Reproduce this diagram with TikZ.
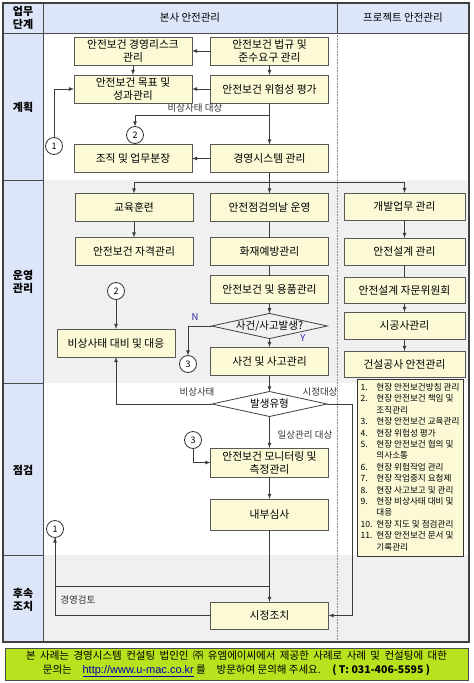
\documentclass[tikz,border=0pt]{standalone}
\usepackage{fontspec}
\setmainfont{Noto Sans CJK KR}
\newfontfamily\urlfont{Liberation Sans}
\usetikzlibrary{positioning}
\usetikzlibrary{arrows}
\usetikzlibrary{shapes.geometric}
\definecolor{boxfill}{RGB}{252,250,214}
\definecolor{stagefill}{RGB}{221,230,248}
\definecolor{bandfill}{RGB}{240,240,240}
\definecolor{linegray}{RGB}{60,60,60}
\definecolor{notegreen}{RGB}{184,226,30}
\definecolor{yesno}{RGB}{40,40,160}

\begin{document}
\begin{tikzpicture}[x=1pt,y=-1pt,>=latex,line width=0.8pt,
	box/.style={minimum width=118pt,minimum height=28pt,inner sep=1pt,outer sep=0pt,draw=black!65,fill=boxfill,align=center,font=\fontsize{10.8}{13}\selectfont},
	pbox/.style={box,minimum width=121pt,minimum height=27pt},
	decide/.style={diamond,aspect=4.6,draw=black!75,inner sep=0pt,outer sep=0pt,minimum width=115pt,minimum height=25pt,font=\fontsize{10.5}{12}\selectfont},
	circ/.style={circle,draw=black!80,fill=white,minimum size=17pt,inner sep=0pt,outer sep=0pt,font=\fontsize{9}{9}\selectfont},
	lbl/.style={inner sep=1pt,font=\fontsize{9.5}{11}\selectfont,text=black!80},
	stage/.style={align=center,font=\fontsize{11}{13.5}\selectfont\bfseries},
	flow/.style={draw=linegray}]
	\useasboundingbox (0,0) rectangle (474,683);

	% lanes and bands
	\fill[bandfill] (43,180) rectangle (469,383);
	\fill[bandfill] (43,555) rectangle (469,642);
	\fill[stagefill] (3,33) rectangle (43,642);
	\fill[stagefill] (3,3) rectangle (469,33);
	\draw[black!45,densely dotted,line width=0.6pt] (337,33) -- (337,642);
	\draw[black!70,line width=1pt] (3,33) -- (469,33);
	\draw[black!70,line width=1pt] (43,3) -- (43,642);
	\draw[black!70,line width=1pt] (337,3) -- (337,33);
	\draw[black!70,line width=1pt] (3,180) -- (43,180);
	\draw[black!70,line width=1pt] (3,383) -- (43,383);
	\draw[black!70,line width=1pt] (3,555) -- (43,555);
	\draw[black!75,line width=1.2pt] (3,3) rectangle (469,642);

	\node [stage] (h_stage) at (23,18) {업무\\단계};
	\node [font=\fontsize{10.5}{12}\selectfont] (h_hq) at (190,18) {본사 안전관리};
	\node [font=\fontsize{10.5}{12}\selectfont] (h_prj) at (403,18) {프로젝트 안전관리};
	\node [stage] (s_plan) at (23,107) {계획};
	\node [stage] (s_oper) at (23,282) {운영\\관리};
	\node [stage] (s_check) at (23,470) {점검};
	\node [stage] (s_follow) at (23,600) {후속\\조치};

	% plan
	\node [box] (risk) at (133,51) {안전보건 경영리스크\\관리};
	\node [box] (reg) at (269.5,51) {안전보건 법규 및\\준수요구 관리};
	\node [box] (goal) at (133,89) {안전보건 목표 및\\성과관리};
	\node [box] (eval) at (269.5,89) {안전보건 위험성 평가};
	\node [box] (org) at (133,158.5) {조직 및 업무분장};
	\node [box] (ms) at (269.5,158.5) {경영시스템 관리};
	\node [circ] (c1a) at (54,146) {1};
	\node [circ] (c2a) at (135,135) {2};
	\node [lbl] (l_emg1) at (195,108) {비상사태 대상};

	% operation
	\node [box] (edu) at (134,207.5) {교육훈련};
	\node [box,below=16pt of edu] (qual) {안전보건 자격관리};
	\node [box] (safeday) at (269.5,207.5) {안전점검의날 운영};
	\node [box,below=16pt of safeday] (fire) {화재예방관리};
	\node [box,below=10pt of fire] (supply) {안전보건 및 용품관리};
	\node [decide] (incident) at (269.5,326) {사건/사고발생?};
	\node [box] (acc) at (269.5,361) {사건 및 사고관리};
	\node [box] (emerg) at (116,343) {비상사태 대비 및 대응};
	\node [circ] (c2b) at (116,291) {2};
	\node [circ] (c3a) at (188,364) {3};
	\node [lbl,text=yesno] (l_n) at (195,317) {N};
	\node [lbl,text=yesno] (l_y) at (303,338) {Y};

	% project
	\node [pbox] (dev) at (404.5,206.5) {개발업무 관리};
	\node [pbox,below=18pt of dev] (design) {안전설계 관리};
	\node [pbox,below=12pt of design,minimum height=26pt] (advisory) {안전설계 자문위원회};
	\node [pbox,below=9pt of advisory] (contractor) {시공사관리};
	\node [pbox,below=12pt of contractor,minimum height=26pt] (constr) {건설공사 안전관리};
	\node [draw=black!80,line width=1pt,fill=boxfill,minimum width=106pt,minimum height=176pt,inner sep=3pt,anchor=north,font=\fontsize{8.6}{11.4}\selectfont] (items) at (410,379) {%
		\begin{tabular}{@{}l@{\hspace{4pt}}l@{}}
		1. & 현장 안전보건방침 관리\\
		2. & 현장 안전보건 책임 및\\
		   & 조직관리\\
		3. & 현장 안전보건 교육관리\\
		4. & 현장 위험성 평가\\
		5. & 현장 안전보건 협의 및\\
		   & 의사소통\\
		6. & 현장 위험작업 관리\\
		7. & 현장 작업중지 요청제\\
		8. & 현장 사고보고 및 관리\\
		9. & 현장 비상사태 대비 및\\
		   & 대응\\
		10. & 현장 지도 및 점검관리\\
		11. & 현장 안전보건 문서 및\\
		    & 기록관리
		\end{tabular}};

	% check and follow-up
	\node [decide,fill=white] (kind) at (269.5,404) {발생유형};
	\node [lbl] (l_emg2) at (197,392) {비상사태};
	\node [lbl] (l_fix) at (320,392) {시정대상};
	\node [lbl] (l_daily) at (305,435) {일상관리 대상};
	\node [box,minimum height=29pt] (mon) at (269.5,462.5) {안전보건 모니터링 및\\측정관리};
	\node [box,minimum height=31pt] (audit) at (269.5,514.5) {내부심사};
	\node [box,minimum height=27pt] (corr) at (269.5,615.5) {시정조치};
	\node [circ] (c3b) at (193,440) {3};
	\node [circ] (c1b) at (55,529) {1};
	\node [lbl,anchor=west] (l_review) at (59,600) {경영검토};

	\draw [->,flow] (reg.west) -- (risk.east);
	\draw [->,flow] (eval.west) -- (goal.east);
	\draw [->,flow] (ms.west) -- (org.east);
	\draw [->,flow] (reg.south) -- (eval.north);
	\draw [->,flow] (risk.south) -- (goal.north);
	\draw [->,flow] (eval.south) -- (ms.north);
	\draw [->,flow] (eval.south) ++(0,12) -| (c2a.north);
	\draw [->,flow] (c1a.north) |- (goal.west);

	\draw [->,flow] (ms.south) -- (safeday.north);
	\draw [->,flow] (ms.south) ++(0,10) -| (edu.north);
	\draw [->,flow] (ms.south) ++(0,10) -| (dev.north);
	\draw [->,flow] (edu.south) -- (qual.north);
	\draw [flow] (safeday.south) -- (fire.north);
	\draw [flow] (fire.south) -- (supply.north);
	\draw [->,flow] (supply.south) -- (incident.north);
	\draw [->,flow] (incident.south) -- (acc.north);
	\draw [->,flow] (incident.west) -| (c3a.north);
	\draw [->,flow] (c2b.south) -- (emerg.north);

	\draw [->,flow] (dev.south) -- (design.north);
	\draw [flow] (design.south) -- (advisory.north);
	\draw [->,flow] (advisory.south) -- (contractor.north);
	\draw [->,flow] (contractor.south) -- (constr.north);

	\draw [->,flow] (acc.south) -- (kind.north);
	\draw [->,flow] (kind.west) -| (emerg.south);
	\draw [->,flow] (kind.east) -- ++(25,0) |- (corr.east);
	\draw [->,flow] (kind.south) -- (mon.north);
	\draw [->,flow] (c3b.south) |- (mon.west);
	\draw [->,flow] (mon.south) -- (audit.north);
	\draw [->,flow] (audit.south) -- (corr.north);
	\draw [flow] (audit.south) ++(0,56) -| (c1b.south);
	\draw [->,flow] (corr.west) -| (c1b.south);

	% footer note
	\node [draw=black!70,line width=1pt,fill=notegreen,minimum width=463pt,minimum height=32pt,inner sep=0pt,align=center,font=\fontsize{10.5}{13.5}\selectfont] (note) at (236.5,664) {\spaceskip=0.42em plus 0.1em\relax 본 사례는 경영시스템 컨설팅 법인인 ㈜ 유엠에이씨에서 제공한 사례로 사례 및 컨설팅에 대한\\문의는\hspace{0.8em} \textcolor{blue!70!black}{\underline{\urlfont\fontsize{11}{13}\selectfont http://www.u-mac.co.kr}} 를\hspace{0.8em} 방문하여 문의해 주세요.\hspace{0.8em} \textbf{( T: 031-406-5595 )}};
\end{tikzpicture}
\end{document}
